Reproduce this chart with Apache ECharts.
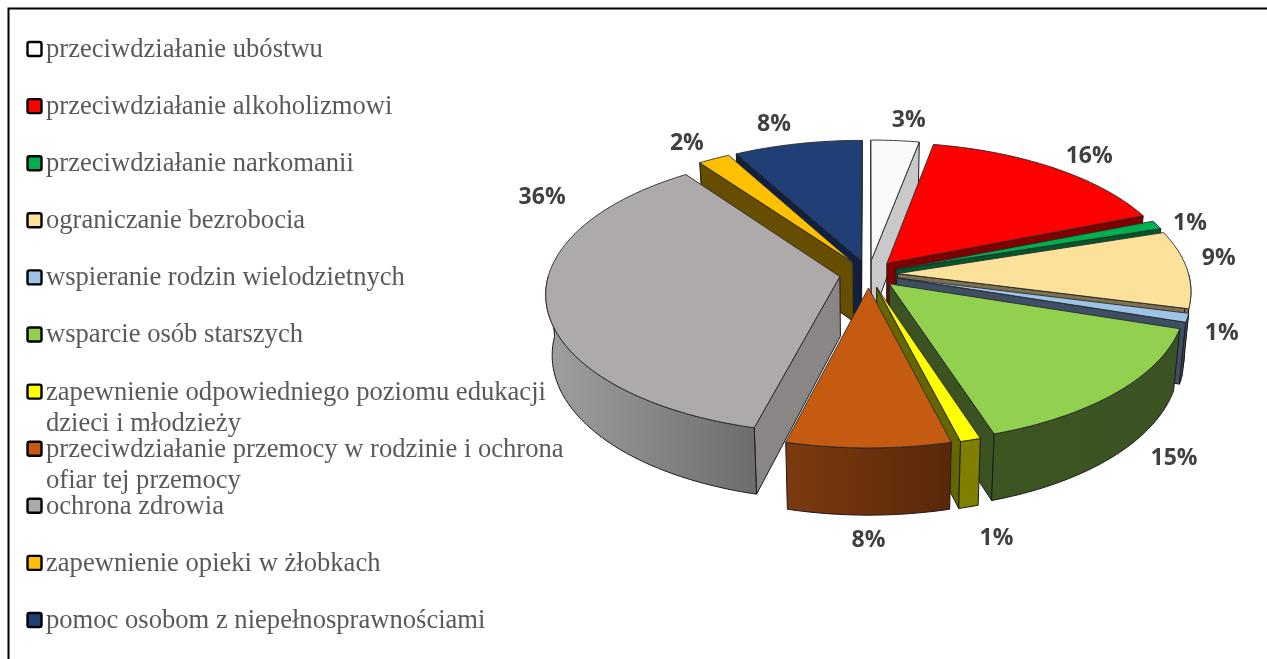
<!DOCTYPE html>
<html>
<head>
    <title>Pie</title>
    <meta charset="utf-8">
    <script src="https://cdn.jsdelivr.net/npm/echarts@6/dist/echarts.min.js"></script>
    <style>
        html, body { margin: 0; padding: 0; background: #fff; overflow: hidden; }
        #chartcanvas { width: 1267px; height: 659px; }
    </style>
</head>
<body>
<div id="chartcanvas"></div>
<script>
    const categories = [
        'przeciwdziałanie ubóstwu',
        'przeciwdziałanie alkoholizmowi',
        'przeciwdziałanie narkomanii',
        'ograniczanie bezrobocia',
        'wspieranie rodzin wielodzietnych',
        'wsparcie osób starszych',
        'zapewnienie odpowiedniego poziomu edukacji\ndzieci i młodzieży',
        'przeciwdziałanie przemocy w rodzinie i ochrona\nofiar tej przemocy',
        'ochrona zdrowia',
        'zapewnienie opieki w żłobkach',
        'pomoc osobom z niepełnosprawnościami'
    ]
    const values = [3, 16, 1, 9, 1, 15, 1, 8, 36, 2, 8]

    const topColors = ['#fafafa', '#ff0000', '#00b050', '#fbe199', '#9dc3e6', '#92d050', '#ffff00', '#c55a11', '#aeaaaa', '#ffc000', '#203f77']
    const radialColors = ['#c9c9c9', '#7f0000', '#00582a', '#7d7050', '#3f4f63', '#3b5323', '#666600', '#6b300c', '#8a8686', '#664d00', '#0f2040']
    const arcLeftColors = ['#c9c9c9', '#7f0000', '#00582a', '#7d7050', '#3f4f63', '#3c5622', '#7f7f00', '#7d3a10', '#a09e9e', '#664d00', '#0f2040']
    const arcRightColors = ['#c9c9c9', '#7f0000', '#00582a', '#7d7050', '#3f4f63', '#3b5323', '#7f7f00', '#592809', '#6e6c6c', '#664d00', '#0f2040']
    // label shift from the default spot, px
    const labelShift = [[11, -7], [17, -1], [3, 4], [-3, -10], [-2, -51], [26, -10], [13, 15], [0, 8], [32, -171], [-12, -4], [-17, -7]]

    // projection of the tilted pie
    const cx = 868.5, cy = 274, rx = 291, ry = 137.6, persp = 0.118, explode = 0.1
    const total = values.reduce((a, b) => a + b, 0)

    let starts = []
    let acc = 0
    for (let v of values) {
        starts.push(acc / total * 360)
        acc += v
    }

    function project(u, v) {
        let s = 1 / (1 - persp * v)
        return [cx + rx * u * s, cy + ry * v * s]
    }

    function lower(u, v) {
        let p = project(u, v)
        return [cx + (p[0] - cx) * 0.98, p[1] + 59.5 + 7 * v]
    }

    function rad(a) { return a * Math.PI / 180 }

    function sliceChildren(i) {
        let a0 = starts[i]
        let a1 = a0 + values[i] / total * 360
        let mid = rad((a0 + a1) / 2)
        let ex = Math.sin(mid) * explode, ey = -Math.cos(mid) * explode
        let pointAt = a => [Math.sin(rad(a)) + ex, -Math.cos(rad(a)) + ey]
        let line = {stroke: '#1a1a1a', lineWidth: 1, lineJoin: 'round'}
        let children = []

        let quad = (p, q, fill) => children.push({
            type: 'polygon',
            shape: {points: [project(p[0], p[1]), project(q[0], q[1]), lower(q[0], q[1]), lower(p[0], p[1])]},
            style: Object.assign({fill: fill}, line)
        })

        let apex = [ex, ey]
        let first = pointAt(a0), last = pointAt(a1)
        // only walls that face the viewer
        if (project(first[0], first[1])[0] < project(apex[0], apex[1])[0]) quad(apex, first, radialColors[i])
        if (project(apex[0], apex[1])[0] < project(last[0], last[1])[0]) quad(last, apex, radialColors[i])

        let from = Math.max(a0, 90), to = Math.min(a1, 270)
        if (to > from) {
            let up = [], down = []
            for (let a = from; ; a += 1) {
                let b = Math.min(a, to)
                let p = pointAt(b)
                up.push(project(p[0], p[1]))
                down.unshift(lower(p[0], p[1]))
                if (a >= to) break
            }
            children.push({
                type: 'polygon',
                shape: {points: up.concat(down)},
                style: Object.assign({
                    fill: new echarts.graphic.LinearGradient(0, 0, 1, 0, [
                        {offset: 0, color: arcLeftColors[i]},
                        {offset: 1, color: arcRightColors[i]}
                    ])
                }, line)
            })
        }

        let top = [project(apex[0], apex[1])]
        for (let a = a0; ; a += 1) {
            let p = pointAt(Math.min(a, a1))
            top.push(project(p[0], p[1]))
            if (a >= a1) break
        }
        children.push({type: 'polygon', shape: {points: top}, style: Object.assign({fill: topColors[i]}, line, {stroke: '#2a2a2a', lineWidth: 0.9})})
        return children
    }

    function labelChild(i) {
        let mid = rad(starts[i] + values[i] / total * 180)
        let p = project(Math.sin(mid) * 1.22, -Math.cos(mid) * 1.22)
        let low = Math.cos(mid) < 0 ? 62 : 0
        return {
            type: 'text',
            z2: 100,
            style: {
                text: values[i] + '%',
                x: p[0] + labelShift[i][0],
                y: p[1] + low + labelShift[i][1],
                fill: '#404040',
                font: 'bold 23px "Open Sans"',
                align: 'center',
                verticalAlign: 'middle'
            }
        }
    }

    // back slices are painted first
    let drawOrder = values.map((v, i) => i).sort((a, b) =>
        -Math.cos(rad(starts[a] + values[a] / total * 180)) + Math.cos(rad(starts[b] + values[b] / total * 180)))

    let legendItems = [
        {type: 'polyline', shape: {points: [[1267, 8.5], [8.5, 8.5], [8.5, 659]]}, style: {stroke: '#000', lineWidth: 2, fill: null}}
    ]
    categories.forEach((name, i) => {
        let y = 49 + 57.1 * i
        legendItems.push({type: 'rect', shape: {x: 27.5, y: y - 7, width: 14, height: 14, r: 2}, style: {fill: topColors[i], stroke: '#000', lineWidth: 2.4}})
        name.split('\n').forEach((line, k) => {
            legendItems.push({
                type: 'text',
                style: {
                    text: line, x: 46, y: y + 1 + k * 31,
                    fill: '#595959', font: '26.6px "Liberation Serif"',
                    align: 'left', verticalAlign: 'middle'
                }
            })
        })
    })

    let myChart = echarts.init(document.getElementById('chartcanvas'))
    myChart.setOption({
        animation: false,
        backgroundColor: '#fff',
        graphic: legendItems,
        series: [
            {
                type: 'custom',
                coordinateSystem: 'none',
                silent: true,
                data: drawOrder.map(i => [i]),
                renderItem: function (params, api) {
                    return {type: 'group', children: sliceChildren(api.value(0))}
                }
            },
            {
                type: 'custom',
                coordinateSystem: 'none',
                silent: true,
                z: 5,
                data: values.map((v, i) => [i]),
                renderItem: function (params, api) {
                    return labelChild(api.value(0))
                }
            }
        ]
    })
</script>
</body>
</html>
